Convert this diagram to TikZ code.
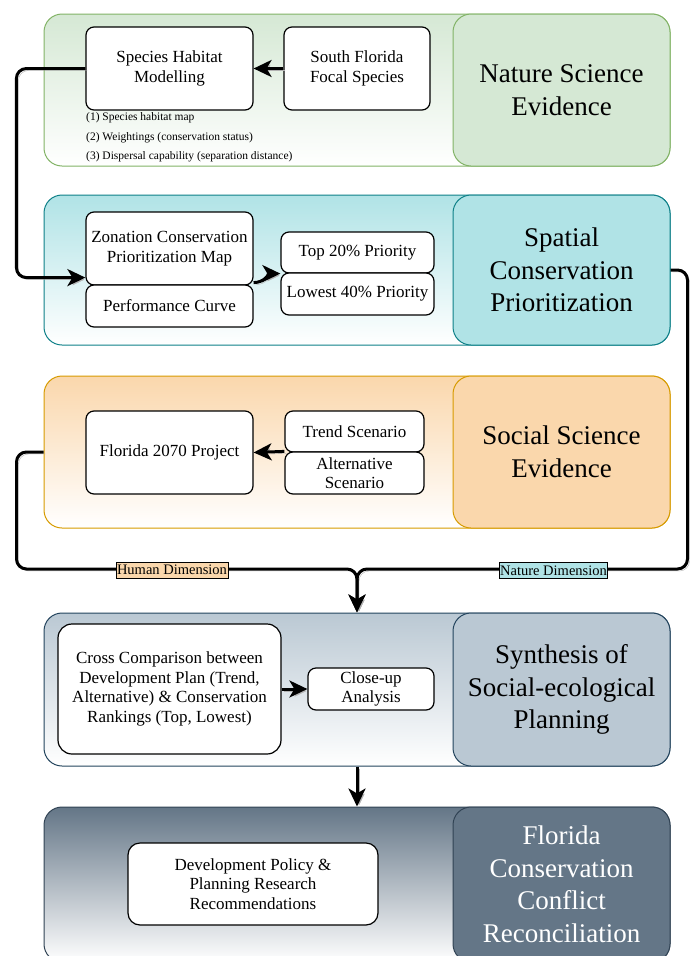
\documentclass[tikz,border=0pt]{standalone}
\usepackage{fontspec}
\setmainfont{Liberation Serif}
\usetikzlibrary{arrows.meta}

\definecolor{natfill}{HTML}{D5E8D4}
\definecolor{natline}{HTML}{82B366}
\definecolor{spafill}{HTML}{B0E3E6}
\definecolor{spaline}{HTML}{0E8088}
\definecolor{socfill}{HTML}{FAD7AC}
\definecolor{socline}{HTML}{D79B00}
\definecolor{synfill}{HTML}{BAC8D3}
\definecolor{synline}{HTML}{23445D}
\definecolor{flofill}{HTML}{647687}
\definecolor{floline}{HTML}{314354}

\begin{document}
\begin{tikzpicture}[x=1pt, y=-1pt,
	panel/.style={draw, line width=1pt, rounded corners=18pt, minimum width=626pt, inner sep=0pt},
	title/.style={draw, line width=1pt, rounded corners=18pt, minimum width=217pt, anchor=east,
		align=center, font=\fontsize{27}{32.5}\selectfont},
	box/.style={draw, fill=white, line width=1.2pt, rounded corners=8pt, align=center,
		font=\fontsize{17}{19.5}\selectfont, inner sep=1pt},
	note/.style={anchor=west, inner sep=0pt, font=\fontsize{11.5}{13}\selectfont},
	flow/.style={line width=3pt, rounded corners=10pt,
		preaction={draw=black!30, transform canvas={shift={(2pt,-2pt)}}}},
	tip/.style={-{Stealth[length=18pt, width=17pt, inset=5pt]}},
	dim/.style={draw, line width=0.8pt, inner sep=1pt, minimum height=16pt,
		font=\fontsize{14.5}{16}\selectfont}]

	\useasboundingbox (0,0) rectangle (691,956);

	% ============ PANELS ============
	\node[panel, minimum height=152pt, top color=natfill, bottom color=white, draw=natline] (p1) at (357,90) {};
	\node[panel, minimum height=150pt, top color=spafill, bottom color=white, draw=spaline] (p2) at (357,270) {};
	\node[panel, minimum height=152pt, top color=socfill, bottom color=white, draw=socline] (p3) at (357,452) {};
	\node[panel, minimum height=153pt, top color=synfill, bottom color=white, draw=synline] (p4) at (357,689.5) {};
	\node[panel, minimum height=155pt, top color=flofill, bottom color=white, draw=floline] (p5) at (357,884.5) {};

	% Titles
	\node[title, minimum height=152pt, fill=natfill, draw=natline] (t1) at (p1.east) {Nature Science\\Evidence};
	\node[title, minimum height=150pt, fill=spafill, draw=spaline] (t2) at (p2.east) {Spatial\\Conservation\\Prioritization};
	\node[title, minimum height=152pt, fill=socfill, draw=socline] (t3) at (p3.east) {Social Science\\Evidence};
	\node[title, minimum height=153pt, fill=synfill, draw=synline] (t4) at (p4.east) {Synthesis of\\Social-ecological\\Planning};
	\node[title, minimum height=155pt, fill=flofill, draw=floline, text=white] (t5) at (p5.east) {Florida\\Conservation\\Conflict\\Reconciliation};

	% ============ NATURE SCIENCE ============
	\node[box, minimum width=167pt, minimum height=83pt] (shm) at (169.5,68.5) {Species Habitat\\Modelling};
	\node[box, minimum width=146pt, minimum height=83pt] (sff) at (357,68.5) {South Florida\\Focal Species};
	\node[note] (n1) at (86,118) {(1) Species habitat map};
	\node[note] (n2) at (86,138) {(2) Weightings (conservation status)};
	\node[note] (n3) at (86,157) {(3) Dispersal capability (separation distance)};

	% ============ SPATIAL PRIORITIZATION ============
	\node[box, minimum width=167pt, minimum height=73pt] (zon) at (169.5,248.5) {Zonation Conservation\\Prioritization Map};
	\node[box, minimum width=167pt, minimum height=42pt] (perf) at (169.5,306) {Performance Curve};
	\node[box, minimum width=153pt, minimum height=41pt] (top) at (357.5,252.5) {Top 20\% Priority};
	\node[box, minimum width=153pt, minimum height=42pt] (low) at (357.5,294) {Lowest 40\% Priority};

	% ============ SOCIAL SCIENCE ============
	\node[box, minimum width=167pt, minimum height=83pt] (fl) at (169.5,452.5) {Florida 2070 Project};
	\node[box, minimum width=139pt, minimum height=41pt] (trend) at (354.5,431.5) {Trend Scenario};
	\node[box, minimum width=139pt, minimum height=42pt] (alt) at (354.5,473) {Alternative\\Scenario};

	% ============ SYNTHESIS ============
	\node[box, rounded corners=14pt, minimum width=223pt, minimum height=130pt] (cc) at (169.5,689)
		{Cross Comparison between\\Development Plan (Trend,\\Alternative) \& Conservation\\Rankings (Top, Lowest)};
	\node[box, minimum width=126pt, minimum height=42pt] (cu) at (371,689) {Close-up\\Analysis};

	% ============ RECONCILIATION ============
	\node[box, rounded corners=12pt, minimum width=250pt, minimum height=82pt] (dp) at (253,884)
		{Development Policy \&\\Planning Research\\Recommendations};

	% ============ CONNECTORS ============
	\coordinate (join) at (357,569);

	\draw[flow, tip] (sff.west) -- (shm.east);
	\draw[flow, tip] (shm.west) -- ++(-69,0) |- ([yshift=8pt]zon.south west);
	\draw[flow, tip] ([yshift=3pt]zon.south east) to[out=0, in=180] (top.south west);
	\draw[flow, tip] (alt.north west) -- (fl.east);

	% Human / nature dimensions
	\draw[flow, tip] (p3.west) -- ++(-27,0) |- (join) -- (p4.north);
	\draw[flow, tip] (t2.east) -- ++(17,0) |- (join) -- (p4.north);
	\node[dim, fill=socfill] (hd) at (172,570) {Human Dimension};
	\node[dim, fill=spafill] (nd) at (553.5,570.5) {Nature Dimension};

	\draw[flow, tip] (cc.east) -- (cu.west);
	\draw[flow, tip] (p4.south) -- (p5.north);

\end{tikzpicture}
\end{document}
